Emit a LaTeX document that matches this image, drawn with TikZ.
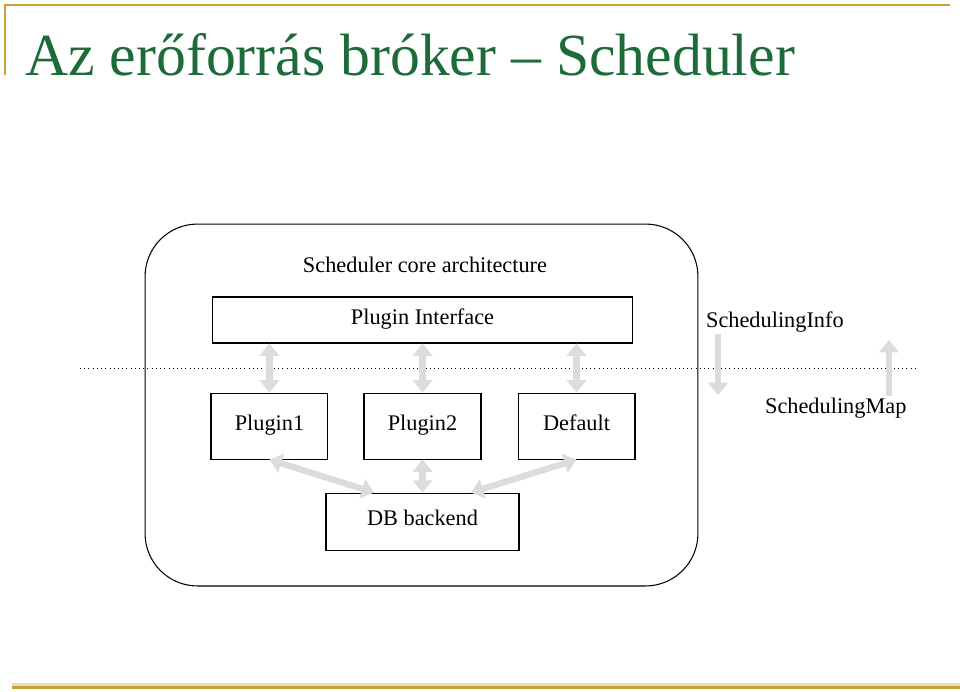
\documentclass[tikz,border=0pt]{standalone}
\usepackage{fontspec}
\setmainfont{Liberation Serif}
\usetikzlibrary{arrows.meta,positioning,calc}
\definecolor{ctitle}{HTML}{1E6B3A}
\definecolor{cgold}{HTML}{C9A232}
\definecolor{carrow}{HTML}{DCDCDC}
\tikzset{
  box/.style={draw,line width=0.6pt,align=center,inner sep=2pt,text height=0.72em,text depth=0.22em,font=\fontsize{12.7}{15}\selectfont},
  lbl/.style={inner sep=1pt,font=\fontsize{12.7}{15}\selectfont},
  garrow/.style={draw=carrow,line width=3.6pt,{Triangle[length=7pt,width=11pt]}-{Triangle[length=7pt,width=11pt]}},
  garrowone/.style={draw=carrow,line width=3.6pt,-{Triangle[length=7pt,width=11pt]}}
}
\begin{document}
\begin{tikzpicture}[x=0.02cm,y=-0.02cm,
      pb/.style={box,minimum width=2.34cm,minimum height=1.32cm}]
    \useasboundingbox (0,0) rectangle (960,691);
    % slide frame and title
    \draw[cgold,line width=1.2pt] (5,75) -- (5,5) -- (950,5);
    \fill[cgold!35] (12,683) rectangle (960,686);
    \fill[cgold] (12,686) rectangle (960,689);
    \node[anchor=base west,inner sep=0,text=ctitle,font=\fontsize{34}{40}\selectfont] (title) at (25,75) {Az erőforrás bróker – Scheduler};
    % core
    \node[draw,line width=0.6pt,rounded corners=1.05cm,minimum width=11.06cm,minimum height=7.24cm] (core) at (421.5,405) {};
    \node[lbl] (coretitle) at (425,265) {Scheduler core architecture};
    \node[box,minimum width=8.42cm,minimum height=0.92cm] (pi) at (422.5,320) {Plugin Interface};
    \node[pb,below=0.98cm of pi] (p2) {Plugin2};
    \node[pb,left=0.7cm of p2] (p1) {Plugin1};
    \node[pb,right=0.72cm of p2] (def) {Default};
    \node[box,minimum width=3.86cm,minimum height=1.14cm,below=0.66cm of p2] (db) {DB backend};
    % boundary
    \coordinate (dl) at (80,368);
    \coordinate (dr) at (915,368);
    \draw[dotted] (dl) -- (dr);
    \node[lbl,anchor=west] (sinfo) at (704,322) {SchedulingInfo};
    \node[lbl,anchor=west] (smap) at (763,408) {SchedulingMap};
    \coordinate (infoend) at (718,395);
    \coordinate (maptop) at (889,340);
    % arrows
    \draw[garrow] (pi.south -| p1.north) -- (p1.north);
    \draw[garrow] (pi.south) -- (p2.north);
    \draw[garrow] (pi.south -| def.north) -- (def.north);
    \draw[garrow] (p2.south) -- (db.north);
    \draw[garrow] (p1.south) -- ($(db.north west)!0.25!(db.north east)$);
    \draw[garrow] (def.south) -- ($(db.north west)!0.75!(db.north east)$);
    \draw[garrowone] (sinfo.south west -| infoend) -- (infoend);
    \draw[garrowone] (smap.north -| maptop) -- (maptop);
  \end{tikzpicture}
\end{document}
